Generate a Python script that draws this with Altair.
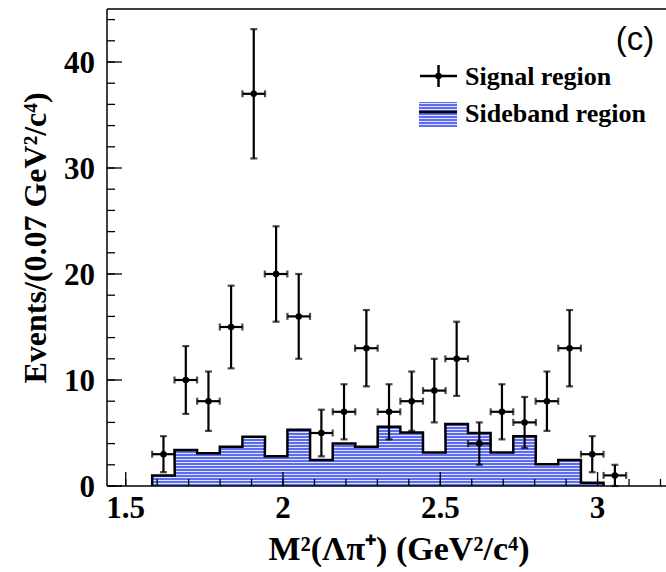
import altair as alt
import pandas as pd

# ---------------- data ----------------
bin_centers = [1.620, 1.691, 1.763, 1.835, 1.907, 1.978, 2.050, 2.122, 2.194, 2.265,
               2.337, 2.409, 2.481, 2.552, 2.624, 2.696, 2.768, 2.839, 2.911, 2.983, 3.055]
signal = [3, 10, 8, 15, 37, 20, 16, 5, 7, 13, 7, 8, 9, 12, 4, 7, 6, 8, 13, 3, 1]
signal_err = [1.7, 3.2, 2.8, 3.9, 6.1, 4.5, 4.0, 2.2, 2.6, 3.6, 2.6, 2.8, 3.0, 3.5,
              2.0, 2.6, 2.4, 2.8, 3.6, 1.7, 1.0]
sideband = [1.0, 3.4, 3.1, 3.7, 4.65, 2.8, 5.3, 2.45, 4.0, 3.7, 5.6, 5.05, 3.15, 5.85,
            5.0, 3.15, 4.7, 2.05, 2.45, 0.3]

x_major = [1.5, 2.0, 2.5, 3.0]
x_labels = ["1.5", "2", "2.5", "3"]
x_minor = [1.5, 1.6, 1.7, 1.8, 1.9, 2.0, 2.1, 2.2, 2.3, 2.4, 2.5, 2.6, 2.7, 2.8,
           2.9, 3.0, 3.1, 3.2]
y_major = [0, 10, 20, 30, 40]
y_labels = ["0", "10", "20", "30", "40"]
y_minor = [0, 2, 4, 6, 8, 10, 12, 14, 16, 18, 20, 22, 24, 26, 28, 30, 32, 34, 36,
           38, 40, 42, 44]

x_title = "M²(Λπ⁺) (GeV²/c⁴)"
y_title = "Events/(0.07 GeV²/c⁴)"
legend_labels = ["Signal region", "Sideband region"]
panel_label = "(c)"

# ---------------- layout / style ----------------
HALF_BIN = 0.0359
W, H = 559, 477
X_DOMAIN = [1.4405, 3.2175]
Y_DOMAIN = [0, 45]
SERIF = "Liberation Serif"
BLUE = "#5d6cf0"
LIGHT = "#dfe3fc"


def striped(height_px, period=3.0, dark=2.0):
    """Horizontal hatch imitation (ROOT fill pattern) as a hard-stop gradient."""
    stops = []
    y = 0.0
    while y < height_px:
        a = y / height_px
        b = min((y + dark) / height_px, 1.0)
        c = min((y + period) / height_px, 1.0)
        stops += [alt.GradientStop(color=BLUE, offset=a), alt.GradientStop(color=BLUE, offset=b),
                  alt.GradientStop(color=LIGHT, offset=b), alt.GradientStop(color=LIGHT, offset=c)]
        y += period
    return alt.Gradient(gradient="linear", stops=stops, x1=0, x2=0, y1=1, y2=0)


xs = alt.Scale(domain=X_DOMAIN, nice=False, zero=False)
ys = alt.Scale(domain=Y_DOMAIN, nice=False, zero=True)

sig = pd.DataFrame({"x": bin_centers, "y": signal, "e": signal_err})
sig["lo"] = sig["y"] - sig["e"]
sig["hi"] = sig["y"] + sig["e"]
sig["xl"] = sig["x"] - HALF_BIN
sig["xr"] = sig["x"] + HALF_BIN

nb = len(sideband)
fill_df = pd.DataFrame({"x": [c - HALF_BIN for c in bin_centers[:nb]] + [bin_centers[nb - 1] + HALF_BIN],
                        "y": sideband + [sideband[-1]]})
area_px = max(sideband) / (Y_DOMAIN[1] - Y_DOMAIN[0]) * H

rows = [(bin_centers[0] - HALF_BIN, 0.0)]
for c, v in zip(bin_centers[:nb], sideband):
    rows.append((c - HALF_BIN, v))
    rows.append((c + HALF_BIN, v))
rows.append((bin_centers[nb - 1] + HALF_BIN, 0.0))
step = pd.DataFrame(rows, columns=["x", "y"])
step["i"] = range(len(step))


def X(f):
    return alt.X(f, type="quantitative", scale=xs, axis=None)


def Y(f):
    return alt.Y(f, type="quantitative", scale=ys, axis=None, stack=None)


fill = alt.Chart(fill_df).mark_area(color=striped(area_px), opacity=1,
                                    interpolate="step-after").encode(
    x=X("x"), y=Y("y"), y2=alt.datum(0))

outline = alt.Chart(step).mark_line(color="black", strokeWidth=2.5).encode(
    x=X("x"), y=Y("y"), order="i:Q")

vbar = alt.Chart(sig).mark_rule(color="black", strokeWidth=2.2).encode(
    x=X("x"), y=Y("lo"), y2="hi")
hbar = alt.Chart(sig).mark_rule(color="black", strokeWidth=2.2).encode(
    x=X("xl"), x2="xr", y=Y("y"))
cap_hi = alt.Chart(sig).mark_tick(color="black", orient="horizontal", size=7,
                                  thickness=2.2).encode(x=X("x"), y=Y("hi"))
cap_lo = alt.Chart(sig).mark_tick(color="black", orient="horizontal", size=7,
                                  thickness=2.2).encode(x=X("x"), y=Y("lo"))
cap_l = alt.Chart(sig).mark_tick(color="black", orient="vertical", size=7,
                                 thickness=2.2).encode(x=X("xl"), y=Y("y"))
cap_r = alt.Chart(sig).mark_tick(color="black", orient="vertical", size=7,
                                 thickness=2.2).encode(x=X("xr"), y=Y("y"))
dots = alt.Chart(sig).mark_circle(color="black", opacity=1, size=42).encode(
    x=X("x"), y=Y("y"))

# frame + inside ticks
one = pd.DataFrame({"a": [0]})
frame_top = alt.Chart(one).mark_rule(color="black", strokeWidth=1.5).encode(
    x=alt.value(0), x2=alt.value(W), y=alt.value(0))
frame_bottom = alt.Chart(one).mark_rule(color="black", strokeWidth=1.5).encode(
    x=alt.value(0), x2=alt.value(W), y=alt.value(H))
frame_left = alt.Chart(one).mark_rule(color="black", strokeWidth=1.5).encode(
    x=alt.value(0), y=alt.value(0), y2=alt.value(H))

xmaj_df = pd.DataFrame({"v": x_major, "t": x_labels})
ymaj_df = pd.DataFrame({"v": y_major, "t": y_labels})
xmaj = alt.Chart(xmaj_df).mark_rule(color="black", strokeWidth=1.3).encode(
    x=X("v"), y=alt.value(H), y2=alt.value(H - 14))
xmin = alt.Chart(pd.DataFrame({"v": x_minor})).mark_rule(color="black", strokeWidth=1.3).encode(
    x=X("v"), y=alt.value(H), y2=alt.value(H - 7))
ymaj = alt.Chart(ymaj_df).mark_rule(color="black", strokeWidth=1.3).encode(
    y=Y("v"), x=alt.value(0), x2=alt.value(15))
ymin = alt.Chart(pd.DataFrame({"v": y_minor})).mark_rule(color="black", strokeWidth=1.3).encode(
    y=Y("v"), x=alt.value(0), x2=alt.value(8))

xlab = alt.Chart(xmaj_df).mark_text(font=SERIF, fontWeight="bold", fontSize=31, color="black",
                                    align="center", baseline="alphabetic").encode(
    x=X("v"), y=alt.value(H + 32), text="t:N")
ylab = alt.Chart(ymaj_df).mark_text(font=SERIF, fontWeight="bold", fontSize=31, color="black",
                                    align="right", baseline="alphabetic", dy=11).encode(
    y=Y("v"), x=alt.value(-12), text="t:N")

xtit = alt.Chart(one).mark_text(font=SERIF, fontWeight="bold", fontSize=34, color="black",
                                align="center", baseline="alphabetic").encode(
    x=alt.value(292), y=alt.value(551), text=alt.value(x_title))
ytit = alt.Chart(one).mark_text(font=SERIF, fontWeight="bold", fontSize=32, color="black",
                                align="center", baseline="alphabetic", angle=270).encode(
    x=alt.value(-61), y=alt.value(229), text=alt.value(y_title))

# legend
leg_h = alt.Chart(one).mark_rule(color="black", strokeWidth=2.5).encode(
    x=alt.value(313), x2=alt.value(350), y=alt.value(67))
leg_v = alt.Chart(one).mark_rule(color="black", strokeWidth=2.5).encode(
    x=alt.value(331.5), y=alt.value(56), y2=alt.value(78))
leg_dot = alt.Chart(one).mark_circle(color="black", opacity=1, size=42).encode(
    x=alt.value(331.5), y=alt.value(67))
leg_box = alt.Chart(one).mark_rect(color=striped(25), opacity=1).encode(
    x=alt.value(312), x2=alt.value(350), y=alt.value(93), y2=alt.value(118))
leg_line = alt.Chart(one).mark_rule(color="black", strokeWidth=2.5).encode(
    x=alt.value(312), x2=alt.value(350), y=alt.value(103))
leg_t1 = alt.Chart(one).mark_text(font=SERIF, fontWeight="bold", fontSize=26,
                                  align="left", baseline="alphabetic", color="black").encode(
    x=alt.value(358), y=alt.value(76), text=alt.value(legend_labels[0]))
leg_t2 = alt.Chart(one).mark_text(font=SERIF, fontWeight="bold", fontSize=26,
                                  align="left", baseline="alphabetic", color="black").encode(
    x=alt.value(358), y=alt.value(113), text=alt.value(legend_labels[1]))
label_c = alt.Chart(one).mark_text(font="Liberation Sans", fontSize=33,
                                   align="center", baseline="alphabetic", color="black").encode(
    x=alt.value(528), y=alt.value(41), text=alt.value(panel_label))

chart = alt.layer(
    fill, outline, xmin, xmaj, ymin, ymaj, frame_top, frame_bottom, frame_left,
    vbar, hbar, cap_hi, cap_lo, cap_l, cap_r, dots,
    xlab, ylab, xtit, ytit,
    leg_box, leg_line, leg_h, leg_v, leg_dot, leg_t1, leg_t2, label_c,
).properties(
    width=W, height=H, autosize="none", background="white",
    padding={"left": 107, "top": 9, "right": 0, "bottom": 86},
).configure_view(stroke=None)

chart.save("out.html", embed_options={"renderer": "svg", "actions": False})
